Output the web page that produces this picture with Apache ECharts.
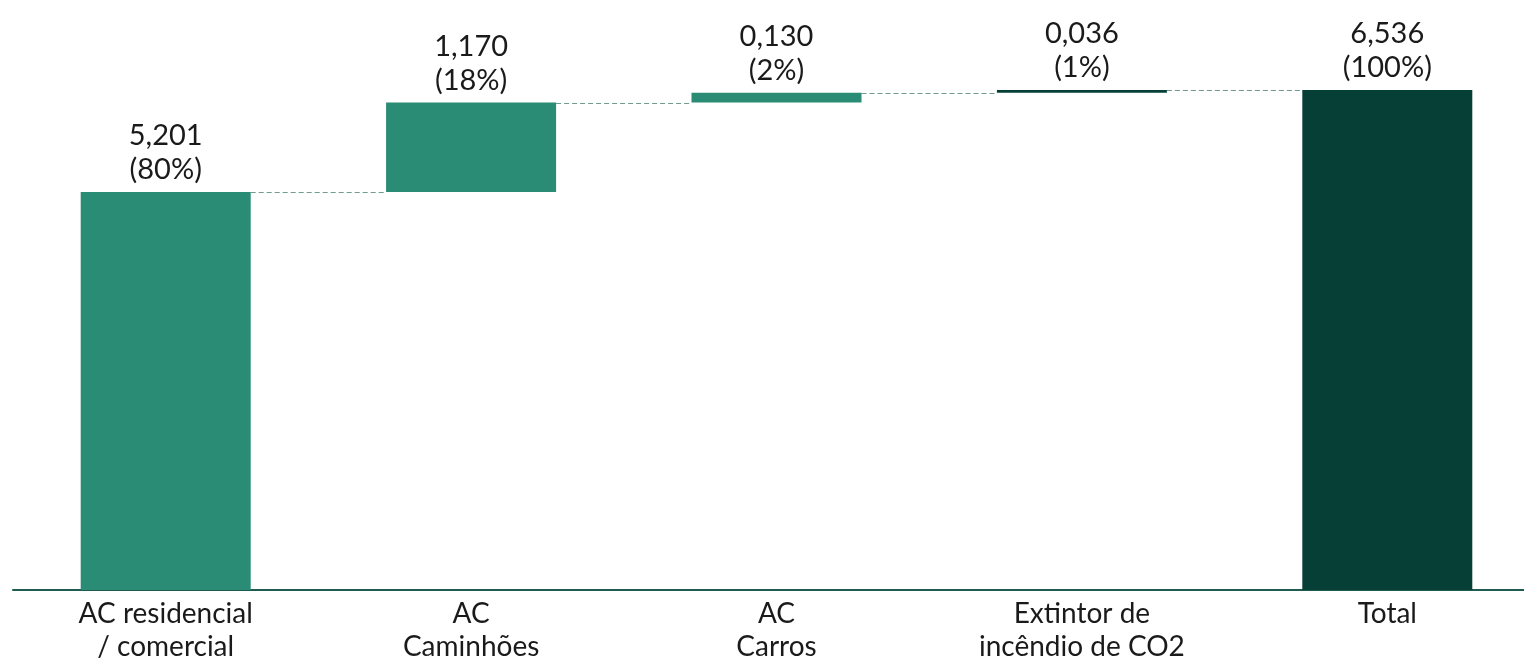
<!DOCTYPE html>
<html>
<head>
<meta charset="utf-8">
<script src="https://cdn.jsdelivr.net/npm/echarts@6/dist/echarts.min.js"></script>
<style>
html,body{margin:0;padding:0;background:#fff;}
#c{width:1524px;height:659px;}
</style>
</head>
<body>
<div id="c"></div>
<script>
const categories = ['AC residencial\n/ comercial', 'AC\nCaminhões', 'AC\nCarros', 'Extintor de\nincêndio de CO2', 'Total'];
const values = [5.201, 1.170, 0.130, 0.036, 6.536];
const percents = ['80%', '18%', '2%', '1%', '100%'];
const isTotal = [false, false, false, false, true];

const MID = '#2a8c74';
const DARK = '#053f35';
const barColors = [MID, MID, MID, DARK, DARK];

// floating bases computed from the steps
const bases = [];
let run = 0;
values.forEach((v, i) => {
  if (isTotal[i]) { bases.push(0); }
  else { bases.push(run); run += v; }
});
// connector levels: top of each bar
const tops = values.map((v, i) => bases[i] + v);
const connectors = [];
for (let i = 0; i < values.length - 1; i++) connectors.push([i, tops[i]]);

const fmt = v => v.toFixed(3).replace('.', ',');
const FONT = 'Lato, "Noto Sans", sans-serif';
const BARW = 170;

const chart = echarts.init(document.getElementById('c'), null, {renderer: 'canvas'});
chart.setOption({
  animation: false,
  grid: {left: 13, width: 1527, top: 54.5, bottom: 69, containLabel: false, outerBoundsMode: 'none'},
  xAxis: {
    type: 'category',
    data: categories,
    axisLine: {show: true, lineStyle: {color: '#1e5c52', width: 2}},
    axisTick: {show: false},
    axisLabel: {
      color: '#1a1a1a', fontFamily: FONT, fontSize: 28, lineHeight: 33, margin: 7,
      interval: 0
    }
  },
  yAxis: {
    type: 'value', min: 0, max: 7,
    show: false, splitLine: {show: false}
  },
  series: [
    {
      type: 'bar', stack: 'w', barWidth: BARW,
      itemStyle: {color: 'transparent'},
      data: bases, silent: true
    },
    {
      type: 'bar', stack: 'w', barWidth: BARW,
      data: values.map((v, i) => ({value: v, itemStyle: {color: barColors[i]}})),
      label: {
        show: true, position: 'top', distance: 5,
        color: '#1a1a1a', fontFamily: FONT, fontSize: 29, lineHeight: 34,
        formatter: p => fmt(values[p.dataIndex]) + '\n(' + percents[p.dataIndex] + ')'
      }
    },
    {
      type: 'custom',
      z: 1,
      data: connectors,
      renderItem: (params, api) => {
        const i = api.value(0);
        const lvl = api.value(1);
        const p = api.coord([i, lvl]);
        const band = api.size([1, 0])[0];
        const y = Math.round(p[1]) + 0.5;
        return {
          type: 'line',
          shape: {x1: p[0] + BARW / 2, y1: y, x2: p[0] + band - BARW / 2, y2: y},
          style: {stroke: '#6f9a90', lineWidth: 1, lineDash: [5, 3]}
        };
      }
    }
  ]
});
</script>
</body>
</html>
